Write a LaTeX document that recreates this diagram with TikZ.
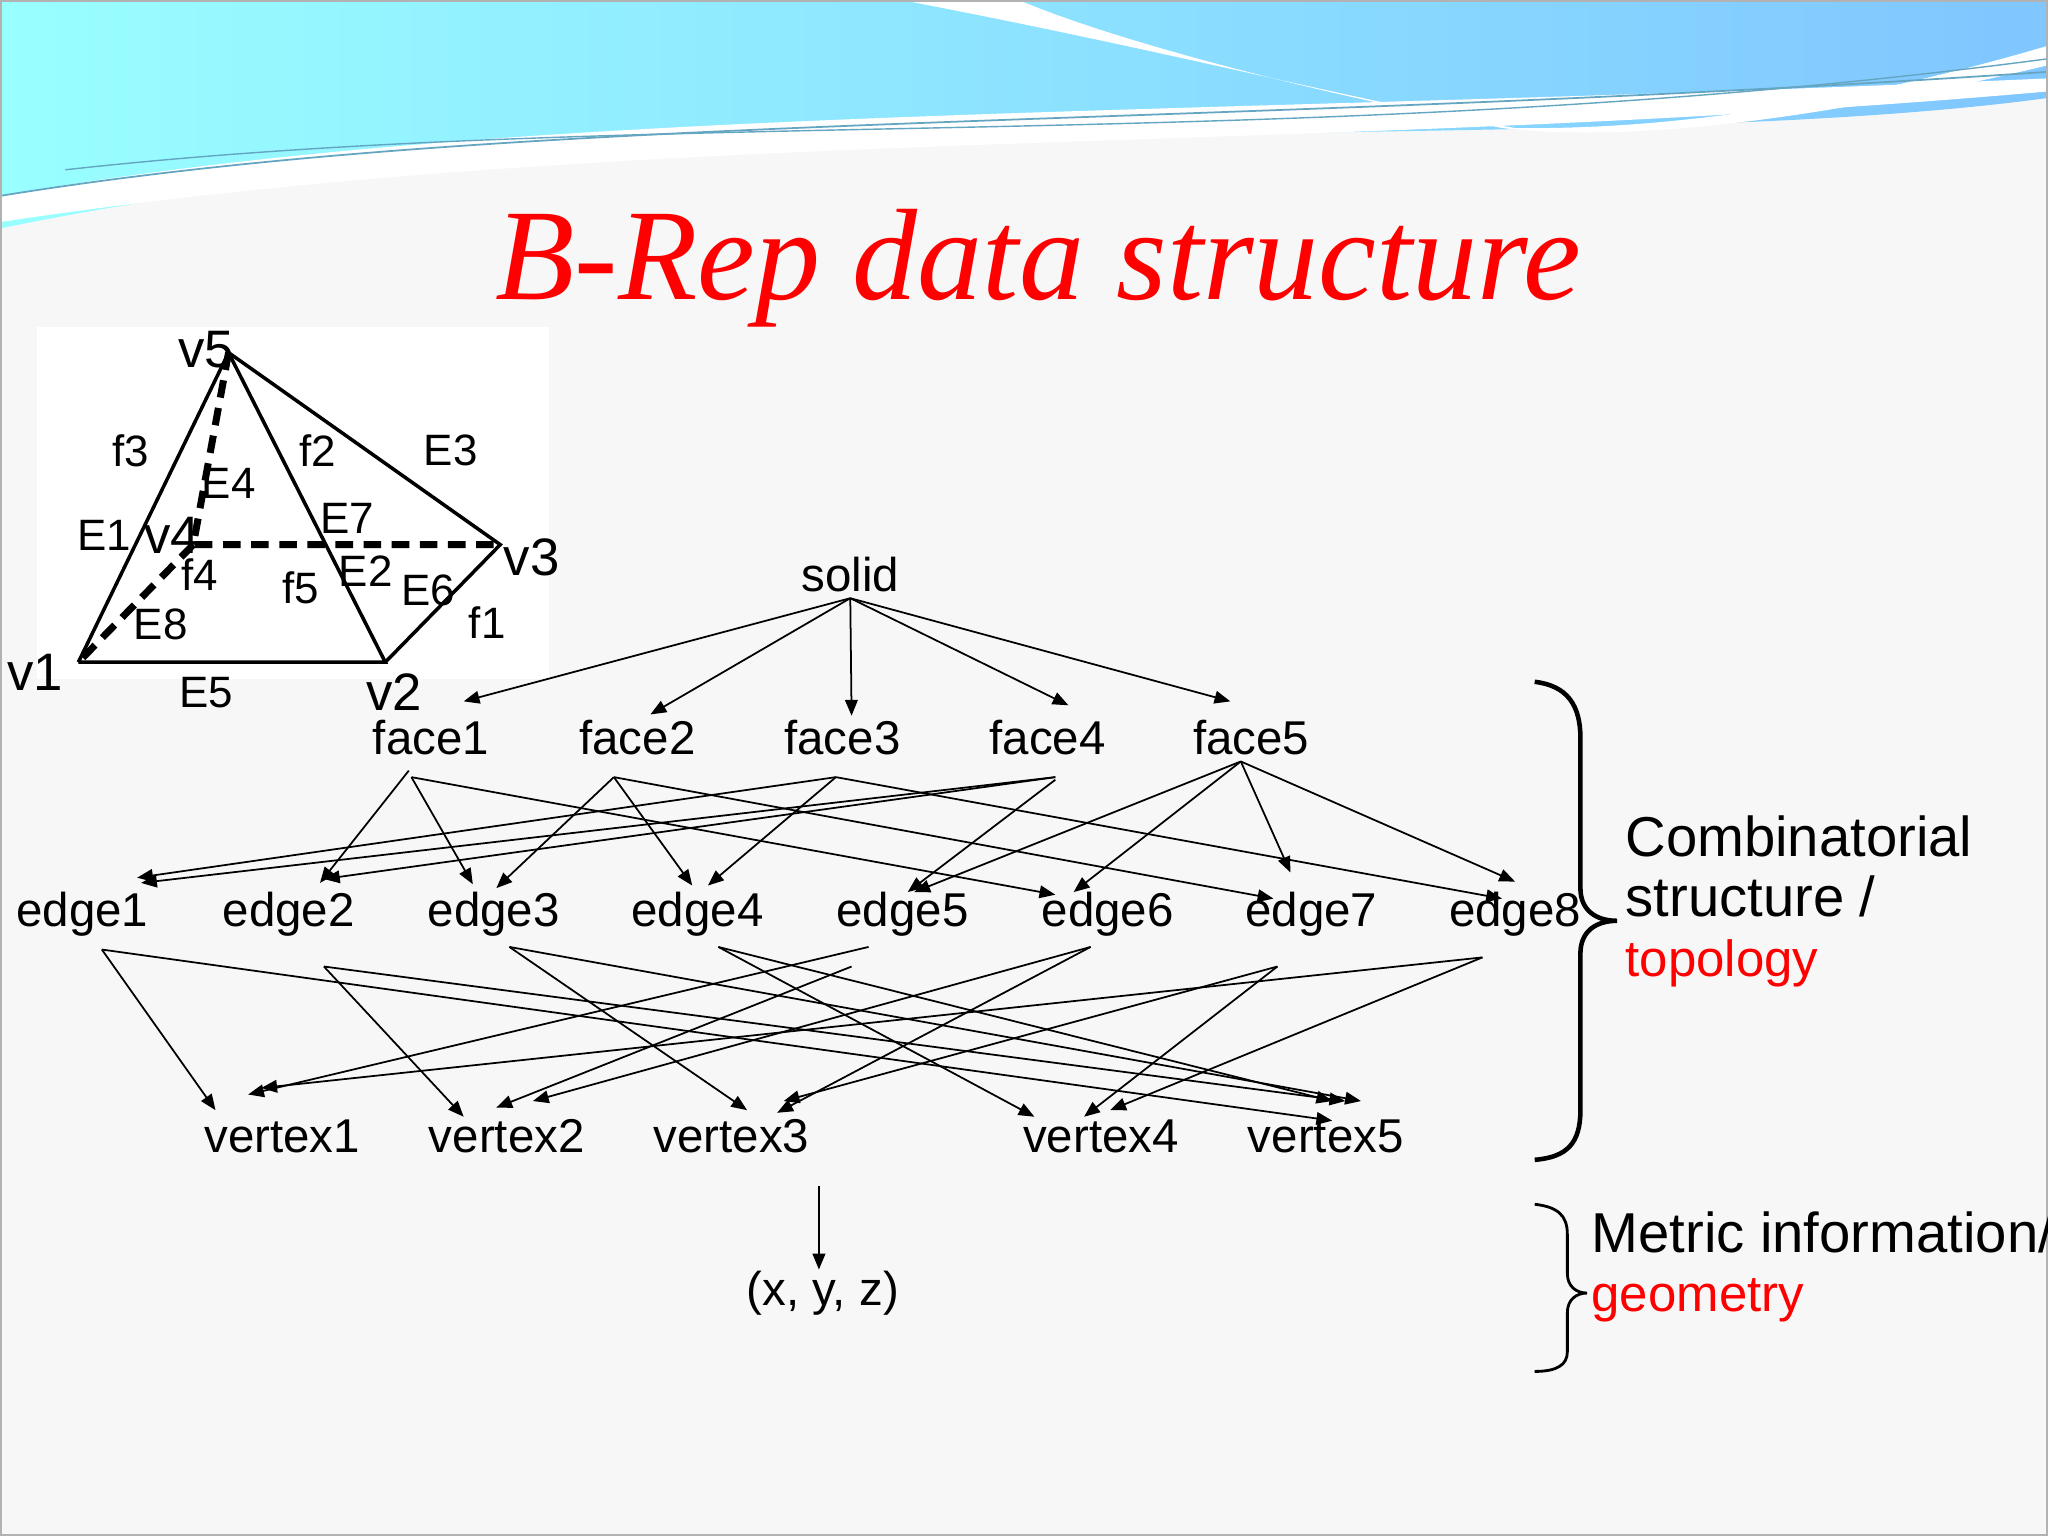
\documentclass[tikz,border=0pt]{standalone}
\usepackage{fontspec}
\setmainfont{Liberation Sans}
\newfontfamily\tfont{Liberation Serif}
\usetikzlibrary{calc,arrows.meta}
\newcommand\myarr[4]{\draw[arr] ($(#1)+(#2)$) -- ($(#3)+(#4)$);}
\begin{document}
\begin{tikzpicture}[x=0.013061cm,y=-0.013061cm,
  lab/.style={inner sep=0pt,font=\fontsize{13.5}{15}\selectfont},
  plab/.style={inner sep=0pt,font=\fontsize{12.5}{14}\selectfont},
  arr/.style={line width=0.5pt,-{Triangle[length=4.5pt,width=3.6pt]}},
  brace/.style={line width=1.3pt}]
\useasboundingbox (0,0) rectangle (1568,1176);
\begin{scope}
\clip (0,0) rectangle (1568,1176);
\fill[black!3] (0,0) rectangle (1568,1176);
\shade[left color=cyan!40!white,right color=cyan!55!blue!50] (0,0) -- (1568,0) -- (1568,75) .. controls (1200,125) and (500,70) .. (0,175) -- cycle;
\fill[white] (690,0) .. controls (900,40) and (1050,80) .. (1160,98) .. controls (1300,100) and (1450,70) .. (1568,35) -- (1568,50) .. controls (1400,90) and (1250,110) .. (1150,98) .. controls (1000,70) and (850,30) .. (780,0) -- cycle;
\fill[white] (0,150) .. controls (400,80) and (900,90) .. (1568,60) -- (1568,70) .. controls (1000,120) and (500,95) .. (0,170) -- cycle;
\draw[cyan!50!gray,line width=0.5pt] (0,150) .. controls (400,85) and (900,100) .. (1568,55);
\draw[cyan!50!gray,line width=0.4pt] (50,130) .. controls (500,80) and (1000,120) .. (1568,45);
\draw[gray!60,line width=0.6pt] (0.5,0.5) rectangle (1567.5,1175.5);

\node[text=red,font=\tfont\itshape\fontsize{37}{40}\selectfont] (title) at (795,205) {B-Rep data structure};

% pyramid
\fill[white] (28,250) rectangle (420,520);
\coordinate (p5) at (175,270); \coordinate (p1) at (60,507); \coordinate (p2) at (295,507);
\coordinate (p3) at (383,417); \coordinate (p4) at (148,417);
\draw[line width=1pt] (p1) -- (p5) -- (p2) -- (p1); \draw[line width=1pt] (p5) -- (p3) -- (p2);
\draw[line width=2pt,dash pattern=on 5pt off 3pt] (p5) -- (p4) -- (p3) (p4) -- (p1);
\foreach \t/\x/\y in {v5/158/268,v3/407/427,v1/27/515,v2/302/530,v4/132/410}
  \node[lab,font=\fontsize{15}{16}\selectfont] (n\t) at (\x,\y) {\t};
\foreach \t/\x/\y in {f3/100/345,f2/243/345,E3/345/345,E4/175/370,E7/266/397,E1/80/410,f4/153/440,f5/230/450,E2/280/437,E6/328/452,E8/123/478,f1/373/477,E5/158/530}
  \node[plab] (n\t) at (\x,\y) {\t};

% graph nodes
\node[lab] (solid) at (651,440) {solid};
\foreach \i/\x in {1/330,2/488,3/645,4/802,5/958} \node[lab] (face\i) at (\x,565) {face\i};
\foreach \i/\x in {1/63,2/221,3/378,4/534,5/691,6/848,7/1004,8/1160} \node[lab] (edge\i) at (\x,700) {edge\i};
\foreach \i/\x in {1/216,2/388,3/560,4/843,5/1015} \node[lab] (vertex\i) at (\x,870) {vertex\i};
\node[lab] (xyz) at (630,990) {(x, y, z)};

\myarr{solid}{0,18}{face1}{25,-28}
\myarr{solid}{0,18}{face2}{10,-18}
\myarr{solid}{0,18}{face3}{7,-17}
\myarr{solid}{0,18}{face4}{16,-25}
\myarr{solid}{0,18}{face5}{-16,-28}

\myarr{face1}{-17,25}{edge2}{24,-24}
\myarr{face1}{-15,30}{edge3}{-16,-23}
\myarr{face1}{-15,30}{edge6}{-40,-15}
\myarr{face2}{-18,30}{edge3}{2,-20}
\myarr{face2}{-18,30}{edge4}{-4,-22}
\myarr{face2}{-18,30}{edge7}{-29,-12}
\myarr{face3}{-5,30}{edge1}{42,-28}
\myarr{face3}{-5,30}{edge4}{8,-22}
\myarr{face3}{-5,30}{edge8}{-10,-12}
\myarr{face4}{6,30}{edge1}{45,-24}
\myarr{face4}{6,30}{edge2}{27,-27}
\myarr{face4}{6,32}{edge5}{4,-17}
\myarr{face5}{-8,18}{edge5}{9,-17}
\myarr{face5}{-8,18}{edge6}{-26,-17}
\myarr{face5}{-8,18}{edge7}{-16,-32}
\myarr{face5}{-8,18}{edge8}{0,-25}

\myarr{edge1}{15,27}{vertex1}{-51,-20}
\myarr{edge1}{15,27}{vertex5}{5,-12}
\myarr{edge2}{27,40}{vertex2}{-33,-15}
\myarr{edge2}{27,40}{vertex5}{15,-27}
\myarr{edge3}{12,25}{vertex3}{12,-20}
\myarr{edge3}{12,25}{vertex5}{27,-27}
\myarr{edge4}{16,25}{vertex4}{-51,-15}
\myarr{edge4}{16,25}{vertex5}{5,-27}
\myarr{edge5}{-26,25}{vertex1}{-26,-32}
\myarr{edge5}{-39,40}{vertex2}{-8,-22}
\myarr{edge6}{-13,25}{vertex2}{20,-27}
\myarr{edge6}{-13,25}{vertex3}{35,-18}
\myarr{edge7}{-26,40}{vertex3}{40,-27}
\myarr{edge7}{-26,40}{vertex4}{-13,-15}
\myarr{edge8}{-25,33}{vertex1}{-16,-37}
\myarr{edge8}{-25,33}{vertex4}{7,-20}
\myarr{vertex3}{67,38}{xyz}{-3,-18}

% braces
\draw[brace] (1175,522) .. controls (1200,525) and (1210,540) .. (1210,565) -- (1210,680) .. controls (1210,697) and (1222,705) .. (1238,705) .. controls (1222,705) and (1210,713) .. (1210,730) -- (1210,850) .. controls (1210,875) and (1200,886) .. (1175,888);
\draw[line width=0.8pt] (1175,922) .. controls (1192,924) and (1200,930) .. (1200,945) -- (1200,975) .. controls (1200,985) and (1207,990) .. (1215,990) .. controls (1207,990) and (1200,995) .. (1200,1005) -- (1200,1035) .. controls (1200,1045) and (1192,1050) .. (1175,1050);

\node[anchor=west,inner sep=0pt,align=left,font=\fontsize{16}{17}\selectfont] (comb) at (1244,690) {Combinatorial\\structure /\\\textcolor{red}{\fontsize{14.5}{17}\selectfont topology}};
\node[anchor=west,inner sep=0pt,align=left,font=\fontsize{16}{17}\selectfont] (metric) at (1218,970) {Metric information/\\\textcolor{red}{\fontsize{14.5}{17}\selectfont geometry}};
\end{scope}
\end{tikzpicture}
\end{document}
